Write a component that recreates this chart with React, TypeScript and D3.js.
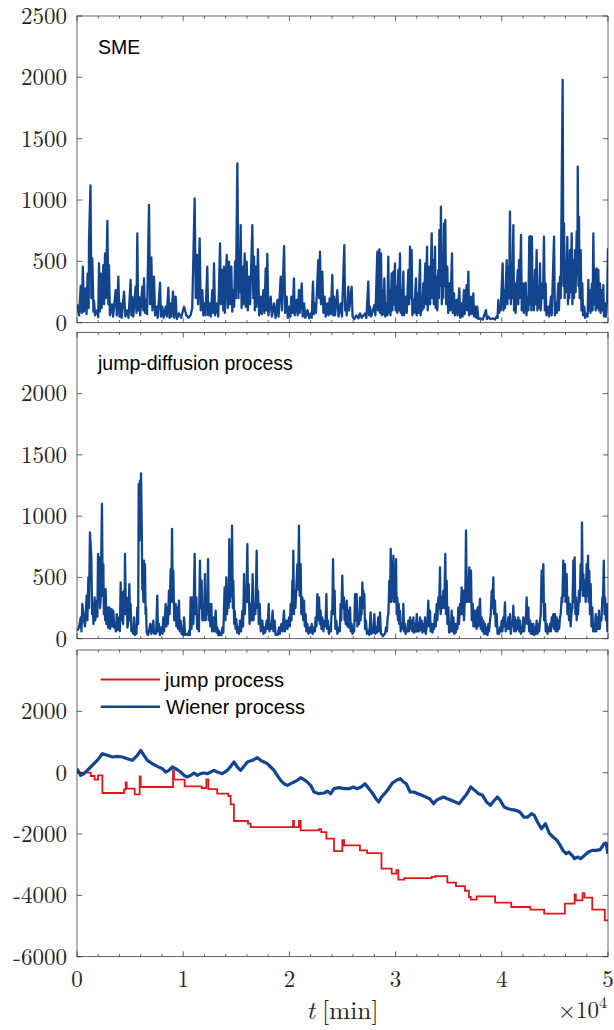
import React from "react";
import * as d3 from "d3";

// time in units of 1000 min
const smeSeries: [number, number][] = [
[0,150],[0.2,60],[0.35,300],[0.45,80],[0.55,456],[0.65,90],[0.82,280],[0.9,70],[1.0,400],[1.1,120],[1.13,660],[1.27,1120],[1.35,200],[1.44,525],[1.55,90],[1.6,180],[1.7,60],[1.9,100],[2.0,45],[2.07,484],[2.15,90],[2.23,400],[2.32,120],[2.48,470],[2.55,150],[2.64,565],[2.72,200],[2.86,830],[2.95,150],[3.01,470],[3.1,60],[3.3,150],[3.4,50],[3.64,266],[3.75,60],[3.89,375],[4.0,50],[4.11,157],[4.2,40],[4.43,253],[4.55,50],[4.74,100],[4.85,40],[5.05,348],[5.12,60],[5.2,210],[5.3,50],[5.52,293],[5.6,80],[5.68,728],[5.75,100],[5.84,210],[5.95,60],[6.15,293],[6.25,100],[6.31,361],[6.4,80],[6.47,185],[6.6,70],[6.78,960],[6.88,150],[7.0,532],[7.1,100],[7.25,375],[7.35,60],[7.5,130],[7.6,40],[7.82,326],[7.9,50],[8.03,130],[8.15,40],[8.35,130],[8.45,50],[8.6,285],[8.7,40],[8.8,157],[8.9,50],[9.04,253],[9.15,40],[9.29,212],[9.4,30],[9.6,76],[9.8,40],[10.08,130],[10.3,60],[10.5,40],[10.7,62],[10.85,120],[11.08,1014],[11.18,200],[11.33,552],[11.4,150],[11.55,688],[11.65,100],[11.8,266],[11.9,60],[12.0,157],[12.1,60],[12.27,456],[12.35,60],[12.52,157],[12.6,50],[12.74,266],[12.82,80],[12.9,484],[13.0,60],[13.15,157],[13.3,50],[13.47,647],[13.55,150],[13.69,430],[13.78,100],[13.84,456],[13.92,80],[14.1,552],[14.2,120],[14.31,497],[14.4,150],[14.53,456],[14.62,90],[14.72,266],[14.8,130],[14.88,497],[14.96,200],[15.1,1299],[15.2,200],[15.25,592],[15.35,250],[15.41,796],[15.5,120],[15.57,456],[15.65,150],[15.79,565],[15.88,130],[15.98,497],[16.08,100],[16.2,375],[16.3,150],[16.51,796],[16.6,200],[16.67,538],[16.75,100],[16.83,456],[16.9,130],[17.04,598],[17.15,60],[17.3,212],[17.4,70],[17.55,266],[17.65,80],[17.77,443],[17.85,100],[17.92,560],[18.02,60],[18.24,212],[18.35,50],[18.55,157],[18.7,40],[18.87,185],[18.98,50],[19.18,375],[19.3,100],[19.5,625],[19.6,80],[19.74,212],[19.85,40],[20.0,130],[20.1,50],[20.18,212],[20.3,80],[20.43,361],[20.5,60],[20.68,185],[20.78,60],[20.9,266],[20.98,80],[21.16,320],[21.25,50],[21.38,157],[21.5,40],[21.7,103],[21.85,35],[22.0,76],[22.1,40],[22.22,334],[22.3,70],[22.38,157],[22.5,80],[22.72,510],[22.8,200],[22.88,579],[22.97,150],[23.1,416],[23.2,80],[23.32,212],[23.42,50],[23.57,157],[23.68,60],[23.79,198],[23.9,70],[24.04,389],[24.12,60],[24.2,212],[24.3,60],[24.51,266],[24.62,50],[24.83,157],[24.95,50],[25.17,633],[25.25,100],[25.33,130],[25.4,60],[25.55,293],[25.62,100],[25.86,293],[25.95,50],[26.1,30],[26.3,60],[26.5,35],[26.6,70],[26.65,76],[26.8,40],[27.12,76],[27.25,40],[27.43,334],[27.5,60],[27.59,130],[27.7,50],[28.0,144],[28.1,60],[28.28,579],[28.34,100],[28.47,598],[28.53,80],[28.63,565],[28.7,60],[28.78,266],[28.85,70],[28.94,361],[29.02,50],[29.16,157],[29.22,60],[29.31,538],[29.38,80],[29.47,266],[29.52,60],[29.63,402],[29.7,100],[29.79,416],[29.85,150],[29.94,484],[30.0,100],[30.1,293],[30.15,80],[30.26,430],[30.32,100],[30.41,565],[30.48,80],[30.57,266],[30.62,60],[30.73,416],[30.8,60],[30.98,212],[31.05,80],[31.2,430],[31.28,150],[31.36,620],[31.42,200],[31.51,592],[31.58,60],[31.67,185],[31.75,80],[31.92,361],[31.98,60],[32.08,239],[32.15,80],[32.3,510],[32.36,60],[32.45,212],[32.52,100],[32.61,320],[32.66,120],[32.8,484],[32.85,150],[32.96,620],[33.02,100],[33.18,456],[33.25,150],[33.4,728],[33.46,200],[33.55,510],[33.6,150],[33.71,620],[33.78,120],[33.87,375],[33.93,100],[34.02,430],[34.08,200],[34.12,755],[34.2,300],[34.27,946],[34.35,150],[34.43,430],[34.48,200],[34.56,810],[34.62,300],[34.68,837],[34.76,150],[34.87,456],[34.95,80],[35.06,320],[35.15,100],[35.31,565],[35.38,80],[35.5,239],[35.58,60],[35.75,185],[35.83,60],[36.0,280],[36.08,40],[36.22,157],[36.3,50],[36.44,266],[36.5,70],[36.69,307],[36.75,100],[36.85,416],[36.92,60],[37.07,212],[37.15,70],[37.32,239],[37.38,50],[37.5,130],[37.6,40],[37.69,130],[37.8,30],[38.0,35],[38.2,25],[38.51,103],[38.6,30],[38.73,50],[38.9,30],[39.2,35],[39.35,25],[39.51,50],[39.6,40],[39.67,185],[39.75,80],[39.83,130],[39.9,100],[40.08,484],[40.15,100],[40.24,266],[40.3,120],[40.46,510],[40.52,150],[40.62,456],[40.68,200],[40.77,905],[40.85,150],[40.93,375],[40.98,200],[41.09,796],[41.15,100],[41.24,320],[41.3,80],[41.5,430],[41.55,150],[41.62,510],[41.68,200],[41.81,715],[41.88,100],[42.03,320],[42.08,80],[42.25,326],[42.32,60],[42.44,212],[42.5,100],[42.59,701],[42.65,150],[42.72,706],[42.78,100],[42.84,700],[42.9,150],[42.97,348],[43.02,100],[43.13,430],[43.18,150],[43.28,592],[43.35,100],[43.44,266],[43.5,120],[43.6,484],[43.66,100],[43.82,320],[43.88,200],[43.97,701],[44.05,100],[44.13,320],[44.2,60],[44.38,130],[44.45,50],[44.63,212],[44.7,60],[44.92,701],[45.0,60],[45.1,157],[45.18,80],[45.32,320],[45.38,100],[45.48,375],[45.55,200],[45.64,1081],[45.73,1980],[45.8,300],[45.86,810],[45.92,200],[45.98,510],[46.05,250],[46.17,700],[46.23,150],[46.3,375],[46.35,200],[46.42,592],[46.5,250],[46.58,728],[46.65,150],[46.74,510],[46.8,200],[46.89,592],[46.95,250],[47.05,742],[47.12,400],[47.15,1272],[47.22,300],[47.27,864],[47.33,200],[47.43,592],[47.5,100],[47.58,320],[47.65,60],[47.77,130],[47.85,40],[48.0,76],[48.08,50],[48.15,348],[48.2,100],[48.3,266],[48.36,80],[48.49,320],[48.55,100],[48.62,728],[48.7,150],[48.78,430],[48.84,100],[48.93,443],[49.0,120],[49.09,430],[49.15,100],[49.25,320],[49.3,80],[49.41,266],[49.48,100],[49.56,307],[49.62,50],[49.72,157],[49.8,50],[49.87,130],[49.92,200],[50.0,606]
];

const jumpDiffusionSeries: [number, number][] = [
[0.03,65],[0.19,92],[0.35,174],[0.42,60],[0.5,283],[0.66,147],[0.75,100],[0.91,351],[0.98,150],[1.07,500],[1.13,250],[1.22,868],[1.35,664],[1.42,200],[1.48,283],[1.55,120],[1.66,337],[1.72,150],[1.85,310],[1.92,180],[1.98,691],[2.05,300],[2.1,664],[2.17,250],[2.23,337],[2.35,1099],[2.42,350],[2.48,609],[2.53,200],[2.6,405],[2.65,150],[2.7,405],[2.76,120],[2.86,256],[2.93,90],[3.05,256],[3.12,80],[3.26,242],[3.33,100],[3.42,228],[3.5,90],[3.58,120],[3.66,60],[3.74,201],[3.82,70],[3.96,174],[4.04,60],[4.11,460],[4.18,150],[4.27,378],[4.34,120],[4.43,392],[4.48,200],[4.52,691],[4.6,200],[4.68,337],[4.75,90],[4.8,120],[4.86,180],[4.93,446],[5.0,150],[5.05,283],[5.12,60],[5.21,92],[5.3,40],[5.37,174],[5.45,30],[5.53,65],[5.6,40],[5.68,256],[5.76,120],[5.81,1262],[5.88,800],[5.93,1289],[5.98,900],[6.03,1349],[6.1,880],[6.15,400],[6.22,392],[6.26,300],[6.31,636],[6.36,350],[6.4,609],[6.46,200],[6.5,256],[6.56,50],[6.62,38],[6.7,30],[6.78,65],[6.9,120],[7.0,40],[7.19,147],[7.25,40],[7.34,65],[7.45,40],[7.56,351],[7.62,60],[7.72,120],[7.8,30],[7.94,92],[8.05,40],[8.13,174],[8.2,60],[8.35,283],[8.42,100],[8.5,256],[8.56,120],[8.66,392],[8.72,200],[8.82,568],[8.88,300],[8.95,895],[9.02,300],[9.07,555],[9.15,150],[9.29,283],[9.36,100],[9.45,256],[9.52,80],[9.6,310],[9.68,60],[9.76,147],[9.85,40],[9.92,79],[10.0,30],[10.08,174],[10.18,30],[10.33,38],[10.45,30],[10.55,65],[10.62,30],[10.7,337],[10.78,80],[10.89,337],[10.96,120],[11.08,691],[11.15,200],[11.24,337],[11.32,80],[11.4,174],[11.48,60],[11.58,636],[11.64,250],[11.74,473],[11.8,150],[11.9,283],[11.97,150],[12.05,527],[12.12,150],[12.21,337],[12.28,200],[12.34,650],[12.4,150],[12.46,283],[12.55,100],[12.65,283],[12.72,60],[12.83,174],[12.92,60],[13.06,228],[13.14,50],[13.21,92],[13.3,30],[13.37,65],[13.45,30],[13.53,38],[13.6,30],[13.69,92],[13.78,50],[13.9,419],[13.98,150],[14.06,500],[14.13,200],[14.22,364],[14.28,250],[14.34,813],[14.4,300],[14.47,473],[14.53,350],[14.6,922],[14.67,250],[14.72,473],[14.8,120],[14.85,228],[14.93,80],[15.0,160],[15.08,50],[15.16,92],[15.25,40],[15.35,147],[15.45,60],[15.57,228],[15.64,100],[15.73,527],[15.8,200],[15.88,392],[15.95,300],[16.04,772],[16.1,300],[16.17,446],[16.25,120],[16.36,283],[16.44,150],[16.54,527],[16.62,150],[16.7,283],[16.8,200],[16.92,718],[16.98,250],[17.05,392],[17.12,120],[17.2,283],[17.3,60],[17.45,147],[17.55,40],[17.61,92],[17.72,50],[17.86,147],[17.95,80],[18.05,283],[18.12,60],[18.24,120],[18.3,80],[18.42,228],[18.5,60],[18.61,147],[18.7,30],[18.8,38],[18.9,30],[19.02,92],[19.1,40],[19.24,120],[19.35,60],[19.49,228],[19.58,60],[19.74,147],[19.82,80],[19.96,174],[20.04,100],[20.12,283],[20.2,150],[20.28,473],[20.33,300],[20.37,718],[20.43,200],[20.5,392],[20.57,250],[20.75,609],[20.82,400],[20.9,922],[20.97,350],[21.06,609],[21.12,200],[21.22,337],[21.3,150],[21.38,310],[21.45,100],[21.53,201],[21.6,60],[21.69,120],[21.8,40],[21.94,92],[22.03,50],[22.1,120],[22.2,40],[22.32,92],[22.4,60],[22.47,174],[22.55,100],[22.63,364],[22.7,150],[22.79,337],[22.87,120],[22.94,228],[23.02,80],[23.1,174],[23.2,60],[23.32,147],[23.4,100],[23.48,364],[23.55,80],[23.63,147],[23.72,40],[23.82,92],[23.9,60],[23.98,228],[24.04,200],[24.11,650],[24.18,200],[24.26,392],[24.33,80],[24.42,147],[24.52,40],[24.67,92],[24.75,60],[24.82,283],[24.88,150],[24.98,514],[25.05,250],[25.14,337],[25.2,150],[25.24,256],[25.3,120],[25.4,310],[25.46,100],[25.55,228],[25.62,90],[25.71,256],[25.78,60],[25.86,120],[25.94,40],[26.02,65],[26.1,60],[26.18,364],[26.24,150],[26.33,364],[26.4,100],[26.49,174],[26.56,120],[26.65,337],[26.7,150],[26.74,201],[26.8,200],[26.87,460],[26.93,250],[26.96,392],[27.0,250],[27.06,364],[27.12,80],[27.21,147],[27.3,40],[27.43,65],[27.52,30],[27.65,215],[27.72,40],[27.81,65],[27.88,50],[28.0,201],[28.08,40],[28.16,92],[28.25,50],[28.37,174],[28.45,60],[28.53,215],[28.62,40],[28.69,38],[28.8,20],[28.94,38],[29.0,40],[29.1,92],[29.18,60],[29.25,174],[29.32,200],[29.41,473],[29.48,300],[29.54,732],[29.6,300],[29.63,337],[29.68,350],[29.79,677],[29.85,300],[29.91,392],[29.97,300],[30.04,650],[30.1,200],[30.16,337],[30.22,150],[30.29,283],[30.35,120],[30.41,228],[30.48,60],[30.6,120],[30.67,80],[30.73,283],[30.8,60],[30.88,120],[30.95,40],[31.04,65],[31.1,60],[31.2,147],[31.27,60],[31.36,174],[31.43,80],[31.51,147],[31.58,60],[31.67,174],[31.74,50],[31.83,120],[31.9,60],[31.99,201],[32.06,60],[32.14,120],[32.2,60],[32.3,174],[32.37,70],[32.45,147],[32.52,50],[32.61,120],[32.68,60],[32.77,174],[32.84,40],[32.92,92],[32.98,100],[33.08,310],[33.15,100],[33.24,228],[33.3,60],[33.4,120],[33.47,50],[33.55,120],[33.62,80],[33.71,201],[33.78,100],[33.87,283],[33.93,150],[34.03,337],[34.1,250],[34.18,582],[34.24,200],[34.34,337],[34.4,250],[34.5,392],[34.58,250],[34.68,691],[34.74,200],[34.81,473],[34.88,120],[34.97,256],[35.04,50],[35.12,120],[35.2,60],[35.28,228],[35.35,60],[35.44,174],[35.52,40],[35.59,120],[35.66,50],[35.75,120],[35.82,80],[35.91,256],[35.97,120],[36.07,283],[36.14,200],[36.22,419],[36.28,200],[36.38,392],[36.44,150],[36.5,283],[36.56,300],[36.63,881],[36.7,300],[36.75,473],[36.8,300],[36.94,582],[37.0,300],[37.1,555],[37.17,150],[37.26,283],[37.33,100],[37.41,228],[37.48,100],[37.57,228],[37.63,80],[37.73,256],[37.78,100],[37.95,324],[38.02,80],[38.1,174],[38.17,60],[38.26,147],[38.33,40],[38.42,120],[38.5,40],[38.58,92],[38.66,30],[38.73,120],[38.8,60],[38.89,147],[38.96,200],[39.05,392],[39.12,250],[39.2,500],[39.27,200],[39.36,310],[39.43,100],[39.52,201],[39.6,40],[39.67,65],[39.75,40],[39.83,92],[39.9,60],[39.99,147],[40.06,60],[40.14,174],[40.2,100],[40.3,296],[40.37,60],[40.46,92],[40.53,80],[40.62,174],[40.7,80],[40.77,201],[40.84,40],[40.93,120],[41.0,100],[41.09,269],[41.16,60],[41.24,174],[41.32,60],[41.4,147],[41.48,80],[41.56,174],[41.63,60],[41.71,147],[41.8,40],[41.87,92],[41.95,60],[42.03,174],[42.1,60],[42.19,147],[42.26,150],[42.34,337],[42.4,120],[42.5,256],[42.57,60],[42.66,147],[42.74,40],[42.81,120],[42.9,40],[42.97,120],[43.05,30],[43.13,92],[43.2,40],[43.28,147],[43.36,40],[43.44,120],[43.52,60],[43.6,147],[43.67,200],[43.75,555],[43.82,300],[43.91,609],[43.98,150],[44.07,283],[44.14,60],[44.22,120],[44.3,40],[44.38,92],[44.45,60],[44.54,120],[44.62,60],[44.7,174],[44.77,100],[44.85,201],[44.92,80],[45.01,201],[45.08,60],[45.17,174],[45.24,60],[45.32,147],[45.4,80],[45.48,174],[45.55,200],[45.64,337],[45.7,300],[45.79,636],[45.86,350],[45.95,609],[46.0,300],[46.11,527],[46.18,200],[46.26,337],[46.33,150],[46.42,283],[46.48,100],[46.58,228],[46.65,250],[46.74,636],[46.8,300],[46.86,664],[46.93,200],[46.99,337],[47.05,150],[47.11,283],[47.18,200],[47.27,392],[47.33,300],[47.43,609],[47.5,400],[47.55,949],[47.62,350],[47.68,527],[47.74,350],[47.83,473],[47.9,300],[47.99,609],[48.05,350],[48.12,677],[48.18,300],[48.24,555],[48.3,200],[48.37,446],[48.44,100],[48.52,256],[48.6,60],[48.68,120],[48.76,60],[48.84,201],[48.9,60],[48.99,174],[49.06,80],[49.15,228],[49.22,80],[49.31,174],[49.38,150],[49.47,337],[49.53,300],[49.6,636],[49.67,200],[49.72,337],[49.8,150],[49.88,283],[49.95,60],[50.0,65]
];

const wienerSeries: [number, number][] = [
[0,130],[0.35,-87],[0.66,-33],[0.97,76],[1.29,185],[1.6,293],[1.91,402],[2.39,620],[2.86,565],[3.33,511],[3.8,530],[4.27,511],[4.74,456],[5.21,402],[5.68,565],[6.0,728],[6.31,565],[6.62,402],[7.09,293],[7.56,206],[8.04,130],[8.35,22],[8.66,76],[8.98,185],[9.29,130],[9.76,22],[10.08,-87],[10.39,-141],[10.7,-87],[11.02,-11],[11.33,-87],[11.64,-33],[11.96,-11],[12.27,-33],[12.59,22],[12.9,76],[13.21,22],[13.68,-33],[14.16,76],[14.47,206],[14.78,348],[15.1,185],[15.41,76],[15.72,206],[16.04,348],[16.51,402],[16.98,489],[17.29,402],[17.61,348],[17.92,293],[18.24,185],[18.55,76],[18.86,-87],[19.18,-250],[19.49,-359],[19.81,-413],[20.12,-359],[20.43,-304],[20.75,-250],[21.06,-163],[21.37,-228],[21.69,-304],[22.0,-413],[22.32,-630],[22.79,-685],[23.26,-663],[23.57,-598],[23.89,-685],[24.2,-522],[24.67,-489],[25.14,-522],[25.65,-522],[26.01,-467],[26.38,-522],[26.75,-467],[27.12,-359],[27.49,-522],[27.86,-685],[28.15,-848],[28.41,-957],[28.67,-793],[28.97,-685],[29.34,-522],[29.7,-337],[30.07,-250],[30.44,-196],[30.74,-304],[31.0,-359],[31.37,-630],[31.73,-630],[32.1,-685],[32.47,-739],[32.84,-793],[33.21,-848],[33.58,-1011],[33.84,-902],[34.13,-848],[34.5,-793],[34.87,-848],[35.24,-902],[35.61,-957],[35.98,-1011],[36.35,-848],[36.72,-685],[37.08,-467],[37.45,-576],[37.82,-685],[38.19,-739],[38.56,-957],[38.93,-1065],[39.3,-902],[39.59,-793],[39.85,-902],[40.22,-1120],[40.59,-1174],[40.96,-1207],[41.33,-1228],[41.7,-1283],[42.07,-1446],[42.44,-1446],[42.8,-1337],[43.06,-1391],[43.36,-1609],[43.73,-1826],[44.1,-1663],[44.46,-1967],[44.83,-2098],[45.2,-2207],[45.5,-2370],[45.76,-2533],[46.05,-2641],[46.31,-2587],[46.61,-2696],[46.86,-2805],[47.12,-2750],[47.42,-2805],[47.79,-2696],[48.15,-2587],[48.52,-2533],[48.89,-2533],[49.26,-2511],[49.63,-2315],[49.82,-2294],[50.0,-2641]
];

// jump times and levels (step function)
const jumpSeries: [number, number][] = [
[0,0],[1.29,-109],[1.66,-228],[1.98,-87],[2.39,-663],[4.43,-554],[4.58,-315],[4.68,-522],[5.43,-707],[5.9,-120],[6.0,-467],[9.04,76],[9.13,-228],[10.14,-446],[11.74,-500],[12.18,-217],[12.37,-533],[13.2,-685],[14.25,-761],[14.47,-1033],[14.78,-1576],[16.1,-1663],[16.35,-1772],[20.34,-1576],[20.43,-1772],[20.9,-1576],[21.06,-1880],[22.79,-1840],[23.0,-1935],[23.48,-2152],[24.2,-2555],[24.98,-2200],[25.15,-2370],[26.64,-2533],[27.31,-2620],[28.67,-3130],[29.63,-3294],[30.07,-3180],[30.26,-3490],[30.81,-3435],[33.39,-3400],[33.76,-3370],[34.87,-3587],[35.68,-3696],[36.53,-3850],[36.9,-4054],[37.08,-4141],[37.64,-4033],[39.37,-4239],[40.89,-4380],[42.69,-4468],[43.99,-4598],[45.94,-4272],[46.86,-3968],[46.97,-4163],[47.6,-3924],[47.79,-4076],[48.52,-4468],[49.7,-4815],[50,-4815]
];

const xTicks = [0, 10, 20, 30, 40, 50];
const xTickLabels = ["0", "1", "2", "3", "4", "5"];
const smeTicks = [0, 500, 1000, 1500, 2000, 2500];
const jdTicks = [0, 500, 1000, 1500, 2000];
const bottomTicks = [-6000, -4000, -2000, 0, 2000];
const legendLabels = ["jump process", "Wiener process"];

const BLUE = "#13458F";
const RED = "#E0181C";
const AX = "#262626";
const X0 = 77, X1 = 608;

const x = d3.scaleLinear().domain([0, 50]).range([X0, X1]);
const minorTicks = d3.range(0, 50.001, 2);

type Panel = { top: number; bottom: number; domain: [number, number]; ticks: number[]; label?: string; labelY?: number };
const panels: Panel[] = [
  { top: 16, bottom: 322.7, domain: [0, 2500], ticks: smeTicks, label: "SME", labelY: 54 },
  { top: 332.3, bottom: 638.7, domain: [0, 2500], ticks: jdTicks, label: "jump-diffusion process", labelY: 370 },
  { top: 650, bottom: 956.7, domain: [-6000, 4000], ticks: bottomTicks },
];

const serif = "'Latin Modern Roman','CMU Serif','Liberation Serif','Times New Roman',serif";
const sans = "'Liberation Sans',Arial,Helvetica,sans-serif";

function Axes({ p, idx, children }: { p: Panel; idx: number; children?: React.ReactNode }) {
  const y = d3.scaleLinear().domain(p.domain).range([p.bottom, p.top]);
  return (
    <g>
      <defs>
        <clipPath id={`clip${idx}`}>
          <rect x={X0} y={p.top} width={X1 - X0} height={p.bottom - p.top} />
        </clipPath>
      </defs>
      {children}
      <rect x={X0} y={p.top} width={X1 - X0} height={p.bottom - p.top} fill="none" stroke={AX} strokeWidth={0.7} />
      {minorTicks.map((t) => {
        const major = xTicks.includes(t);
        const len = major ? 5.3 : 2.7;
        return (
          <g key={`xt${t}`}>
            <line x1={x(t)} x2={x(t)} y1={p.bottom} y2={p.bottom - len} stroke={AX} strokeWidth={0.7} />
            <line x1={x(t)} x2={x(t)} y1={p.top} y2={p.top + len} stroke={AX} strokeWidth={0.7} />
          </g>
        );
      })}
      {p.ticks.map((v) => (
        <g key={`yt${v}`}>
          <line x1={X0} x2={X0 + 5.3} y1={y(v)} y2={y(v)} stroke={AX} strokeWidth={0.7} />
          <line x1={X1} x2={X1 - 5.3} y1={y(v)} y2={y(v)} stroke={AX} strokeWidth={0.7} />
          <text x={67} y={y(v)} dy="0.34em" textAnchor="end" fontFamily={serif} fontSize={23} fill={AX}>
            {String(v)}
          </text>
        </g>
      ))}
      {p.label && (
        <text x={98} y={p.labelY} fontFamily={sans} fontSize={19.5} fill="#000">
          {p.label}
        </text>
      )}
    </g>
  );
}

export default function App() {
  const y1 = d3.scaleLinear().domain(panels[0].domain).range([panels[0].bottom, panels[0].top]);
  const y2 = d3.scaleLinear().domain(panels[1].domain).range([panels[1].bottom, panels[1].top]);
  const y3 = d3.scaleLinear().domain(panels[2].domain).range([panels[2].bottom, panels[2].top]);

  const line1 = d3.line<[number, number]>().x((d) => x(d[0])).y((d) => y1(d[1]));
  const line2 = d3.line<[number, number]>().x((d) => x(d[0])).y((d) => y2(d[1]));
  const line3 = d3.line<[number, number]>().x((d) => x(d[0])).y((d) => y3(d[1]));
  const step3 = d3.line<[number, number]>().x((d) => x(d[0])).y((d) => y3(d[1])).curve(d3.curveStepAfter);

  return (
    <svg width={614} height={1030} style={{ position: "absolute", left: 0, top: 0, background: "#fff" }}>
      <rect x={0} y={0} width={614} height={1030} fill="#fff" />
      <Axes p={panels[0]} idx={0}>
        <path d={line1(smeSeries) || ""} fill="none" stroke={BLUE} strokeWidth={2.3} strokeLinejoin="round" clipPath="url(#clip0)" />
      </Axes>
      <Axes p={panels[1]} idx={1}>
        <path d={line2(jumpDiffusionSeries) || ""} fill="none" stroke={BLUE} strokeWidth={2.3} strokeLinejoin="round" clipPath="url(#clip1)" />
      </Axes>
      <Axes p={panels[2]} idx={2}>
        <g clipPath="url(#clip2)">
          <path d={step3(jumpSeries) || ""} fill="none" stroke={RED} strokeWidth={1.8} />
          <path d={line3(wienerSeries) || ""} fill="none" stroke={BLUE} strokeWidth={3.2} strokeLinejoin="round" />
        </g>
      </Axes>
      {/* legend */}
      <line x1={100.7} x2={160} y1={679.5} y2={679.5} stroke={RED} strokeWidth={1.8} />
      <text x={165} y={686.7} fontFamily={sans} fontSize={20} fill="#000">{legendLabels[0]}</text>
      <line x1={100.7} x2={160} y1={706.7} y2={706.7} stroke={BLUE} strokeWidth={2.4} />
      <text x={166} y={714} fontFamily={sans} fontSize={20} fill="#000">{legendLabels[1]}</text>
      {/* x tick labels */}
      {xTicks.map((t, i) => (
        <text key={`xl${t}`} x={x(t)} y={986.7} textAnchor="middle" fontFamily={serif} fontSize={23} fill={AX}>
          {xTickLabels[i]}
        </text>
      ))}
      <text x={342.5} y={1019} textAnchor="middle" fontFamily={serif} fontSize={25.5} fill={AX}>
        <tspan fontStyle="italic">t</tspan>
        <tspan dx={7}>[min]</tspan>
      </text>
      <text x={607} y={1018.3} textAnchor="end" fontFamily={serif} fontSize={23} fill={AX}>
        ×10<tspan fontSize={16} dy={-10}>4</tspan>
      </text>
    </svg>
  );
}
